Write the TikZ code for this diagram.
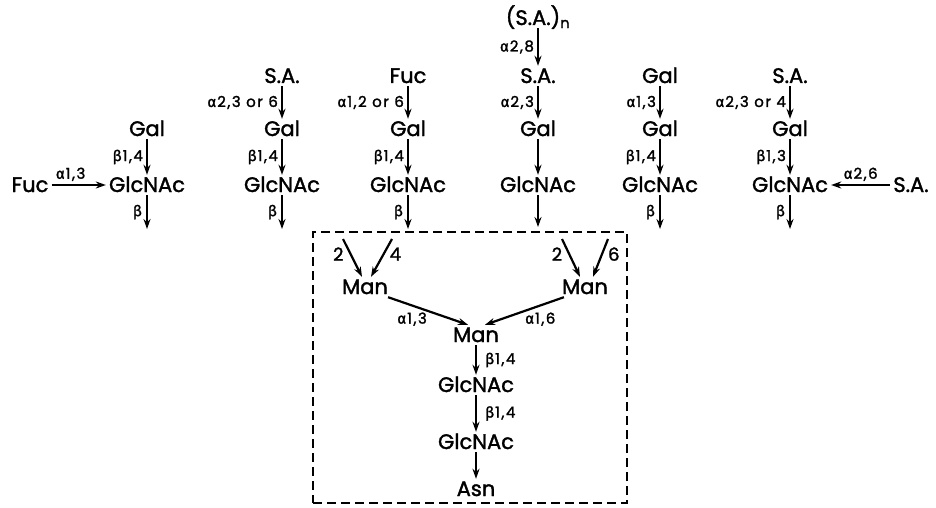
\documentclass[tikz,border=0pt]{standalone}
\usepackage{fontspec}
\setmainfont{Poppins}[FakeBold=1.6]
\newfontfamily\gkfont{Fira Sans}[FakeBold=1.6]
\usetikzlibrary{arrows.meta,calc}
\newcommand\galpha{{\gkfont α}\kern1pt}
\newcommand\gbeta{{\gkfont β}\kern1pt}
\begin{document}
\begin{tikzpicture}[x=1pt,y=-1pt,
  sug/.style={font=\fontsize{21}{24}\selectfont, inner sep=3pt, text height=14pt, text depth=0pt},
  lab/.style={font=\fontsize{15}{18}\selectfont\addfontfeature{LetterSpace=10}, inner sep=3pt},
  num/.style={font=\fontsize{18}{20}\selectfont, inner sep=2pt},
  link/.style={line width=2.2pt, -{Stealth[length=10pt,width=7pt]}},
  corebox/.style={draw, line width=2.2pt, dash pattern=on 9pt off 5pt, inner sep=0pt},
]
\useasboundingbox (0,0) rectangle (936,508);
% column 1
\node[sug] (F1) at (30,185) {Fuc};
\node[sug] (Ga1) at (147,129) {Gal};
\node[sug] (G1) at (147,185) {GlcNAc};
\coordinate (E1) at (147,229);
\draw[link] (Ga1) -- (G1) node[lab,midway,left]{\gbeta1,4};
\draw[link] (G1) -- (E1) node[lab,midway,left]{\gbeta};
\draw[link] (F1) -- (G1) node[lab,pos=0.35,above]{\galpha1,3};
% column 2
\node[sug] (S2) at (282,76) {S.A.};
\node[sug] (Ga2) at (282,129) {Gal};
\node[sug] (G2) at (282,185) {GlcNAc};
\coordinate (E2) at (282,229);
\draw[link] (S2) -- (Ga2) node[lab,midway,left]{\galpha2,3 or 6};
\draw[link] (Ga2) -- (G2) node[lab,midway,left]{\gbeta1,4};
\draw[link] (G2) -- (E2) node[lab,midway,left]{\gbeta};
% column 3
\node[sug] (F3) at (408,76) {Fuc};
\node[sug] (Ga3) at (408,129) {Gal};
\node[sug] (G3) at (408,185) {GlcNAc};
\coordinate (E3) at (408,229);
\draw[link] (F3) -- (Ga3) node[lab,midway,left]{\galpha1,2 or 6};
\draw[link] (Ga3) -- (G3) node[lab,midway,left]{\gbeta1,4};
\draw[link] (G3) -- (E3) node[lab,midway,left]{\gbeta};
% column 4
\node[sug] (Sn) at (538,18) {(S.A.)\textsubscript{n}};
\node[sug] (S4) at (538,76) {S.A.};
\node[sug] (Ga4) at (538,129) {Gal};
\node[sug] (G4) at (538,185) {GlcNAc};
\coordinate (E4) at (538,227);
\draw[link] (Sn) -- (S4) node[lab,midway,left]{\galpha2,8};
\draw[link] (S4) -- (Ga4) node[lab,midway,left]{\galpha2,3};
\draw[link] (Ga4) -- (G4);
\draw[link] (G4) -- (E4);
% column 5
\node[sug] (Gb5) at (660,76) {Gal};
\node[sug] (Ga5) at (660,129) {Gal};
\node[sug] (G5) at (660,185) {GlcNAc};
\coordinate (E5) at (660,229);
\draw[link] (Gb5) -- (Ga5) node[lab,midway,left]{\galpha1,3};
\draw[link] (Ga5) -- (G5) node[lab,midway,left]{\gbeta1,4};
\draw[link] (G5) -- (E5) node[lab,midway,left]{\gbeta};
% column 6
\node[sug] (S6) at (790,76) {S.A.};
\node[sug] (Ga6) at (790,129) {Gal};
\node[sug] (G6) at (790,185) {GlcNAc};
\node[sug] (SR) at (911,185) {S.A.};
\coordinate (E6) at (790,229);
\draw[link] (S6) -- (Ga6) node[lab,midway,left]{\galpha2,3 or 4};
\draw[link] (Ga6) -- (G6) node[lab,midway,left]{\gbeta1,3};
\draw[link] (G6) -- (E6) node[lab,midway,left]{\gbeta};
\draw[link] (SR) -- (G6) node[lab,midway,above]{\galpha2,6};
% core
\node[corebox, minimum width=314pt, minimum height=271pt] (core) at (470,367.5) {};
\node[sug] (ML) at (365,287) {Man};
\node[sug] (MR) at (585,287) {Man};
\node[sug] (MC) at (476,335) {Man};
\node[sug] (N1) at (476,385) {GlcNAc};
\node[sug] (N2) at (476,442) {GlcNAc};
\node[sug] (As) at (476,489) {Asn};
\coordinate (a2) at (343,239);
\coordinate (a4) at (392,239);
\coordinate (b2) at (562,239);
\coordinate (b6) at (608,239);
\draw[link] (a2) -- ([xshift=-3pt]ML.north) node[num,pos=0.4,left=4pt]{2};
\draw[link] (a4) -- ([xshift=6pt]ML.north) node[num,pos=0.4,right=3pt]{4};
\draw[link] (b2) -- ([xshift=-5pt]MR.north) node[num,pos=0.4,left=4pt]{2};
\draw[link] (b6) -- ([xshift=8pt]MR.north) node[num,pos=0.4,right=3pt]{6};
\draw[link] ([xshift=-3pt]ML.south east) -- ([xshift=-8pt]MC.north) node[lab,pos=0.3,below=3pt]{\galpha1,3};
\draw[link] ([xshift=5pt]MR.south west) -- ([xshift=9pt]MC.north) node[lab,pos=0.3,below=3pt]{\galpha1,6};
\draw[link] (MC) -- (N1) node[lab,midway,right=5pt]{\gbeta1,4};
\draw[link] (N1) -- (N2) node[lab,midway,right=5pt]{\gbeta1,4};
\draw[link] (N2) -- (As);
\end{tikzpicture}
\end{document}
